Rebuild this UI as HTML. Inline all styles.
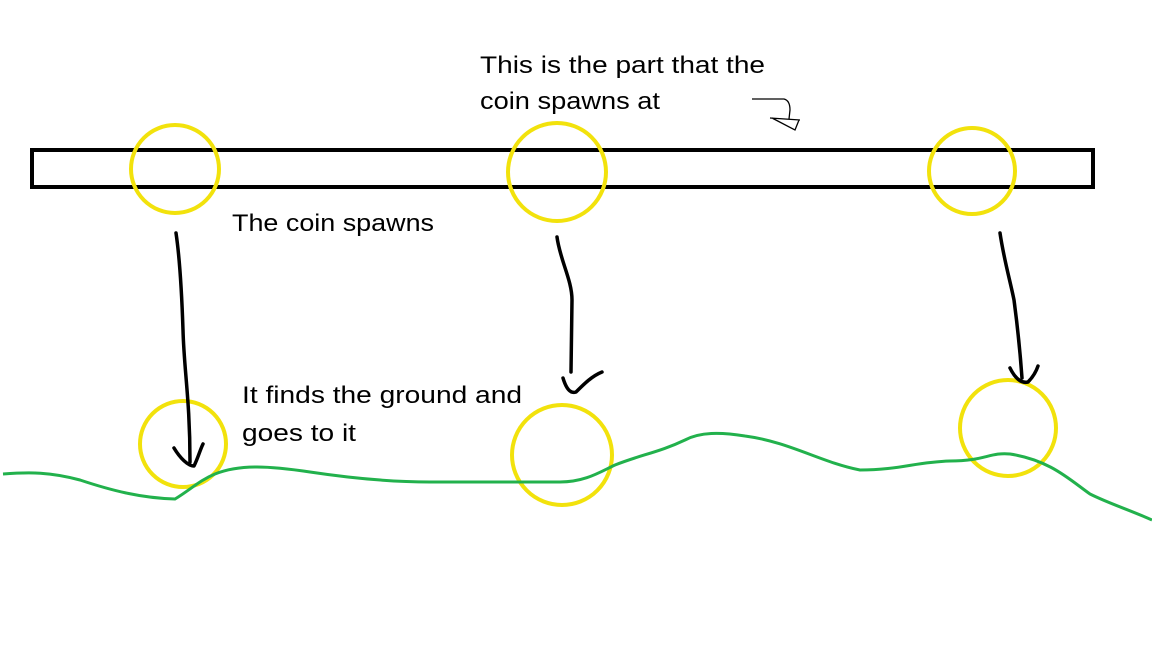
<!DOCTYPE html>
<html><head><style>
html,body{margin:0;padding:0;background:#fff;}
svg{display:block;}
text{font-family:"Liberation Sans",sans-serif;font-size:24px;fill:#000;}
</style></head><body>
<svg width="1152" height="648" viewBox="0 0 1152 648">
<rect width="1152" height="648" fill="#fff"/>
<rect x="32" y="150" width="1061" height="37" fill="none" stroke="#000" stroke-width="4"/>
<g fill="none" stroke="#f2e20c" stroke-width="4">
<circle cx="175" cy="169" r="44"/>
<circle cx="557" cy="172" r="49"/>
<circle cx="972" cy="171" r="43"/>
<circle cx="183" cy="444" r="43"/>
<circle cx="562" cy="455" r="50"/>
<circle cx="1008" cy="428" r="48"/>
</g>
<path d="M3,474 C30,472 50,472 80,480 C110,490 140,498 175,499 C190,490 200,480 215,474 C240,464 270,466 310,472 C350,478 390,482 430,482 L560,482 C585,482 600,472 615,465 C640,455 660,452 685,440 C700,432 720,432 745,436 C790,442 820,462 860,470 C900,470 915,462 950,461 C985,461 990,452 1010,454 C1050,460 1070,480 1090,494 C1110,504 1130,510 1152,520" fill="none" stroke="#22b14c" stroke-width="3"/>
<g fill="none" stroke="#000" stroke-width="3.5" stroke-linecap="round" stroke-linejoin="round">
<path d="M176,233 C180,260 182,300 183,330 C184,370 190,400 190,462"/>
<path d="M174,448 C180,458 188,466 194,466 C198,458 200,450 203,444"/>
<path d="M557,237 C560,260 572,280 572,300 L571,372"/>
<path d="M563,378 C566,388 570,394 576,392 C584,384 592,376 602,372"/>
<path d="M1000,233 C1004,260 1010,280 1014,300 C1018,330 1020,350 1022,378"/>
<path d="M1010,368 C1014,376 1020,384 1028,382 C1032,378 1036,372 1038,366"/>
</g>
<g fill="none" stroke="#000" stroke-width="1.3">
<path d="M752,99 L784,99 C788,100 790,104 790,110 L789,119"/>
<path d="M770,118 L800,120 M772,118 L795,130 L799,120"/>
</g>
<text x="480" y="73" textLength="285" lengthAdjust="spacingAndGlyphs">This is the part that the</text>
<text x="480" y="109" textLength="180" lengthAdjust="spacingAndGlyphs">coin spawns at</text>
<text x="232" y="231" textLength="202" lengthAdjust="spacingAndGlyphs">The coin spawns</text>
<text x="242" y="403" textLength="280" lengthAdjust="spacingAndGlyphs">It finds the ground and</text>
<text x="242" y="441" textLength="114" lengthAdjust="spacingAndGlyphs">goes to it</text>
</svg>
</body></html>
